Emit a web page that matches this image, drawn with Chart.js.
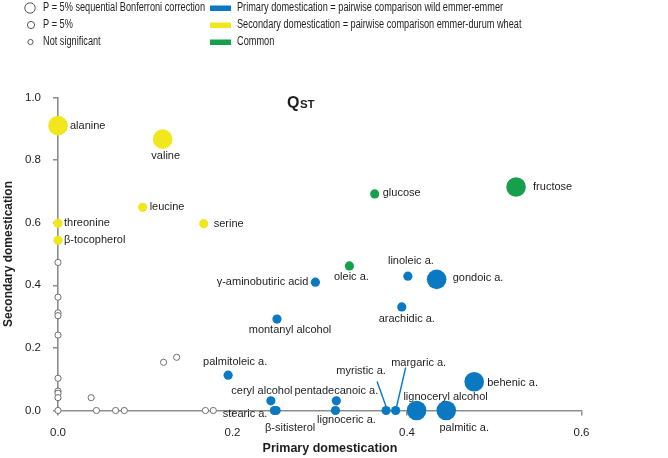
<!DOCTYPE html>
<html>
<head>
<meta charset="utf-8">
<script src="https://cdn.jsdelivr.net/npm/chart.js@4.4.1/dist/chart.umd.min.js"></script>
<style>
html,body{margin:0;padding:0;background:#fff;}
#c{display:block;}
</style>
</head>
<body>
<canvas id="c" width="668" height="458"></canvas>
<script>
// ---------- DATA ----------
const xTicks = [0.0, 0.2, 0.4, 0.6];
const yTicks = [0.0, 0.2, 0.4, 0.6, 0.8, 1.0];

// Primary domestication (blue)
const primaryNames = ["γ-aminobutiric acid","linoleic a.","gondoic a.","arachidic a.","montanyl alcohol","palmitoleic a.","ceryl alcohol","stearic a.","β-sitisterol","pentadecanoic a.","lignoceric a.","myristic a.","margaric a.","lignoceryl alcohol","palmitic a.","behenic a."];
const primaryX = [0.295,0.401,0.434,0.394,0.251,0.195,0.244,0.248,0.250,0.319,0.318,0.376,0.387,0.411,0.445,0.477];
const primaryY = [0.410,0.429,0.419,0.331,0.292,0.113,0.031,0.0,0.0,0.031,0.0,0.0,0.0,0.0,0.0,0.092];
const primarySig = ["P","P","B","P","P","P","P","P","P","P","P","P","P","B","B","B"];

// Secondary domestication (yellow)
const secondaryNames = ["alanine","valine","leucine","threonine","β-tocopherol","serine"];
const secondaryX = [0.0,0.120,0.097,0.0,0.0,0.167];
const secondaryY = [0.910,0.867,0.649,0.598,0.544,0.597];
const secondarySig = ["B","B","P","P","P","P"];

// Common (green)
const commonNames = ["glucose","oleic a.","fructose"];
const commonX = [0.363,0.334,0.525];
const commonY = [0.692,0.462,0.714];
const commonSig = ["P","P","B"];

// Not significant (open circles)
const nsX = [0,0,0,0,0,0,0,0,0,0,0.038,0.044,0.066,0.076,0.121,0.136,0.169,0.178];
const nsY = [0.473,0.362,0.312,0.303,0.241,0.103,0.062,0.055,0.041,0.0,0.041,0.0,0.0,0.0,0.154,0.170,0.0,0.0];

// ---------- STYLE / LAYOUT ----------
const BLUE = "#0a79c2", YELLOW = "#f2e61c", GREEN = "#17a04c", AXIS = "#8d8d8d", TXT = "#1e1e1e";
const radiusFor = s => s === "B" ? 9.8 : 4.6;
const LABEL_FONT = "11px 'Liberation Sans', Arial, sans-serif";
const LEGEND_FONT = "12px 'Liberation Sans', Arial, sans-serif";
const LEGEND_SQUEEZE = 0.765;

// label offsets relative to point pixel: [dx, dy, align]
const labelLayout = {
  "alanine":[12,0,"left"], "valine":[3,17,"center"], "leucine":[7,0,"left"],
  "threonine":[6,0,"left"], "β-tocopherol":[6,0,"left"], "serine":[10,0,"left"],
  "glucose":[8,-1,"left"], "oleic a.":[2,11,"center"], "fructose":[17,0,"left"],
  "γ-aminobutiric acid":[-7,0,"right"], "linoleic a.":[3,-15,"center"], "gondoic a.":[16,-1,"left"],
  "arachidic a.":[5,12,"center"], "montanyl alcohol":[13,11,"center"], "palmitoleic a.":[7,-13,"center"],
  "ceryl alcohol":[-9,-10,"center"], "stearic a.":[-7,3,"right"], "β-sitisterol":[14,17,"center"],
  "pentadecanoic a.":[0,-10,"center"], "lignoceric a.":[11,9,"center"],
  "myristic a.":[-25,-40,"center"], "margaric a.":[23,-48,"center"],
  "lignoceryl alcohol":[29,-14,"center"], "palmitic a.":[18,17,"center"], "behenic a.":[13,1.5,"left"]
};
// leader lines: [startDx, startDy, endDx, endDy] relative to the point
const leaderLines = {
  "myristic a.":[-9,-29,0,-4],
  "margaric a.":[10,-43,1,-4]
};

function pts(xs, ys){ return xs.map((x,i)=>({x:x, y:ys[i]})); }

const datasets = [
  {label:"Primary", data:pts(primaryX,primaryY), names:primaryNames,
   backgroundColor:BLUE, borderWidth:0, pointRadius:primarySig.map(radiusFor)},
  {label:"Secondary", data:pts(secondaryX,secondaryY), names:secondaryNames,
   backgroundColor:YELLOW, borderWidth:0, pointRadius:secondarySig.map(radiusFor)},
  {label:"Common", data:pts(commonX,commonY), names:commonNames,
   backgroundColor:GREEN, borderWidth:0, pointRadius:commonSig.map(radiusFor)},
  {label:"NS", data:pts(nsX,nsY), names:[],
   backgroundColor:"#ffffff", borderColor:"#6e6e6e", borderWidth:1, pointRadius:3.1}
];

function squeezedText(ctx, text, x, y){
  ctx.save();
  ctx.translate(x, y);
  ctx.scale(LEGEND_SQUEEZE, 1);
  ctx.fillText(text, 0, 0);
  ctx.restore();
}

const annotatePlugin = {
  id:"annotate",
  beforeDatasetsDraw(chart){
    const ctx = chart.ctx, xs = chart.scales.x, ys = chart.scales.y;
    ctx.save();
    ctx.strokeStyle = BLUE; ctx.lineWidth = 1.4;
    chart.data.datasets.forEach(ds=>{
      (ds.names||[]).forEach((n,i)=>{
        const L = leaderLines[n]; if(!L) return;
        const px = xs.getPixelForValue(ds.data[i].x), py = ys.getPixelForValue(ds.data[i].y);
        ctx.beginPath(); ctx.moveTo(px+L[0], py+L[1]); ctx.lineTo(px+L[2], py+L[3]); ctx.stroke();
      });
    });
    ctx.restore();
  },
  afterDatasetsDraw(chart){
    const ctx = chart.ctx, xs = chart.scales.x, ys = chart.scales.y;
    ctx.save();
    ctx.font = LABEL_FONT; ctx.fillStyle = TXT; ctx.textBaseline = "middle";
    chart.data.datasets.forEach(ds=>{
      (ds.names||[]).forEach((n,i)=>{
        const L = labelLayout[n]; if(!L) return;
        const px = xs.getPixelForValue(ds.data[i].x), py = ys.getPixelForValue(ds.data[i].y);
        ctx.textAlign = L[2];
        ctx.fillText(n, px+L[0], py+L[1]);
      });
    });

    // Title Q_ST
    ctx.textAlign = "left"; ctx.textBaseline = "alphabetic";
    ctx.font = "bold 16px 'Liberation Sans', Arial, sans-serif";
    ctx.fillText("Q", 287, 108);
    const qw = ctx.measureText("Q").width;
    ctx.font = "bold 11.5px 'Liberation Sans', Arial, sans-serif";
    ctx.fillText("ST", 287 + qw + 0.5, 108);

    // Axis titles
    ctx.textAlign = "center"; ctx.textBaseline = "middle";
    ctx.font = "bold 12.5px 'Liberation Sans', Arial, sans-serif";
    ctx.fillText("Primary domestication", 330, 449);
    ctx.save();
    ctx.translate(9, 254); ctx.rotate(-Math.PI/2);
    ctx.font = "bold 12px 'Liberation Sans', Arial, sans-serif";
    ctx.fillText("Secondary domestication", 0, 0);
    ctx.restore();

    // Legend: significance circles
    ctx.strokeStyle = "#555"; ctx.fillStyle = "#fff"; ctx.lineWidth = 1;
    [[30,8,5.2],[31,25,3.6],[30.5,42,2.6]].forEach(c=>{
      ctx.beginPath(); ctx.arc(c[0],c[1],c[2],0,Math.PI*2); ctx.fill(); ctx.stroke();
    });
    ctx.fillStyle = TXT; ctx.textAlign = "left"; ctx.textBaseline = "middle";
    ctx.font = LEGEND_FONT;
    squeezedText(ctx, "P = 5% sequential Bonferroni correction", 43, 7.5);
    squeezedText(ctx, "P = 5%", 43, 24.5);
    squeezedText(ctx, "Not significant", 43, 41.5);
    // Legend: colours
    [[BLUE,8,"Primary domestication = pairwise comparison wild emmer-emmer"],
     [YELLOW,25,"Secondary domestication = pairwise comparison emmer-durum wheat"],
     [GREEN,42,"Common"]].forEach(r=>{
      ctx.fillStyle = r[0]; ctx.fillRect(210, r[1]-2.5, 21, 5.5);
      ctx.fillStyle = TXT; squeezedText(ctx, r[2], 237, r[1]-0.5);
    });
    ctx.restore();
  }
};

new Chart(document.getElementById("c"), {
  type:"scatter",
  data:{datasets},
  plugins:[annotatePlugin],
  options:{
    responsive:false, animation:false, devicePixelRatio:1,
    clip:false,
    layout:{padding:{left:0, right:86.5, top:97.5, bottom:0}},
    plugins:{legend:{display:false}, tooltip:{enabled:false}, title:{display:false}},
    elements:{point:{hoverRadius:0}},
    scales:{
      x:{type:"linear", min:0, max:0.6,
         afterFit(s){ s.height = 47.5; },
         afterBuildTicks(s){ s.ticks = xTicks.map(v=>({value:v})); },
         ticks:{callback:v=>v.toFixed(1), color:TXT, padding:10, font:{family:"'Liberation Sans', Arial, sans-serif", size:11.5}},
         grid:{display:true, drawOnChartArea:false, drawTicks:true, tickLength:5, color:AXIS, lineWidth:1.5},
         border:{display:true, color:AXIS, width:1.6}},
      y:{type:"linear", min:0, max:1.0,
         afterFit(s){ s.width = 58; },
         afterBuildTicks(s){ s.ticks = yTicks.map(v=>({value:v})); },
         ticks:{callback:v=>v.toFixed(1), color:TXT, padding:12, font:{family:"'Liberation Sans', Arial, sans-serif", size:11.5}},
         grid:{display:true, drawOnChartArea:false, drawTicks:true, tickLength:5, color:AXIS, lineWidth:1.5},
         border:{display:true, color:AXIS, width:1.6}}
    }
  }
});
</script>
</body>
</html>
